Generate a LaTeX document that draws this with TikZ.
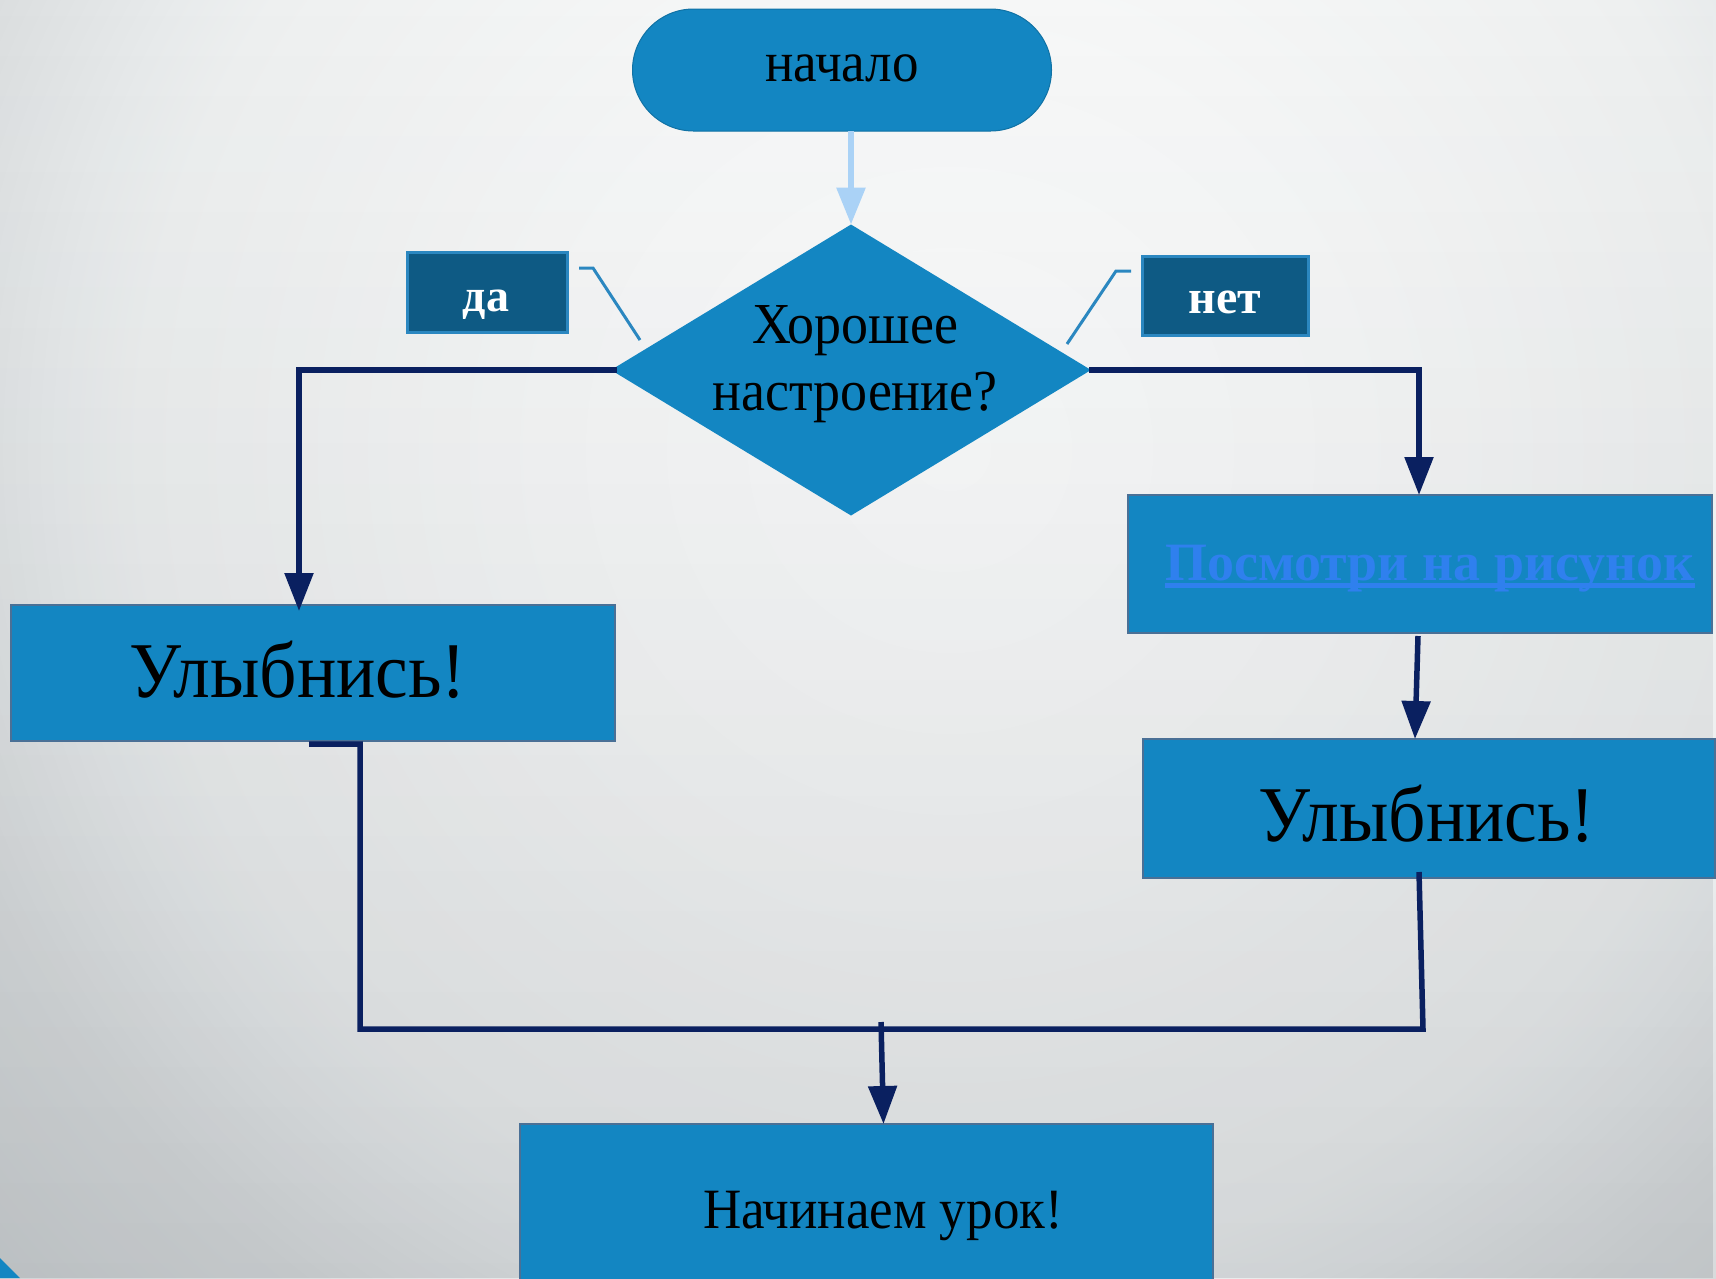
\documentclass[tikz,border=0pt]{standalone}
\usepackage{fontspec}
\setmainfont{Liberation Serif}
\newfontfamily\condserif[FakeStretch=0.93]{Liberation Serif}
\usetikzlibrary{shapes.geometric,arrows.meta,fadings}
\definecolor{boxblue}{RGB}{19,134,194}
\definecolor{boxedge}{RGB}{74,112,150}
\definecolor{navy}{RGB}{10,32,96}
\definecolor{lblue}{RGB}{170,210,246}
\definecolor{tagfill}{RGB}{14,90,132}
\definecolor{tagedge}{RGB}{43,135,192}
\definecolor{linkblue}{RGB}{47,128,238}
\definecolor{bgA}{RGB}{252,253,253}
\definecolor{bgB}{RGB}{247,248,248}
\definecolor{bgC}{RGB}{238,240,240}
\definecolor{bgD}{RGB}{232,235,236}
\definecolor{bgE}{RGB}{219,222,223}
\definecolor{bgF}{RGB}{205,209,211}
\definecolor{bgdark}{RGB}{40,50,60}
\pgfdeclareradialshading{bgshade}{\pgfpoint{0bp}{0bp}}{color(0bp)=(bgA); color(7.5bp)=(bgB); color(15bp)=(bgC); color(16.5bp)=(bgD); color(19.5bp)=(bgE); color(25bp)=(bgF); color(50bp)=(bgF)}
\newcommand\myul[1]{\setbox0\hbox{#1}\rlap{\rule[-8pt]{\wd0}{5pt}}\box0}
\begin{document}
\begin{tikzpicture}[x=1pt,y=-1pt,
  box/.style={rectangle, fill=boxblue, draw=boxedge, line width=2pt, inner sep=0pt, outer sep=0pt},
  term/.style={rectangle, rounded corners=61pt, fill=boxblue, draw=boxblue!85!black, line width=1pt, inner sep=0pt, outer sep=0pt},
  tag/.style={rectangle, fill=tagfill, draw=tagedge, line width=3pt, inner sep=0pt, outer sep=0pt},
  txt/.style={inner sep=0pt, outer sep=0pt, anchor=base, text=black},
  flow/.style={draw=navy, line width=5.5pt, -{Triangle[width=28pt,length=38pt]}},
  plainline/.style={draw=navy, line width=5.5pt},
  callout/.style={draw=tagedge, line width=3pt},
  startarr/.style={draw=lblue, line width=6pt, -{Triangle[width=28pt,length=37pt]}}
]
\useasboundingbox (0,0) rectangle (1716,1278);
\begin{scope}
  \clip (0,0) rectangle (1716,1278);
  \shade[shading=bgshade] (950,450) circle[radius=1350];
  \fill[bgdark, opacity=0.13, path fading=north] (0,0) rectangle (1716,1278);
\end{scope}
\fill[boxblue] (0,1258) -- (20,1278) -- (0,1278) -- cycle;

% shapes
\node[term, minimum width=419pt, minimum height=122pt] (start) at (842,70) {};
\node[diamond, fill=boxblue, minimum width=480pt, minimum height=291pt, inner sep=0pt, outer sep=0pt] (dec) at (851,370) {};
\node[tag, minimum width=160pt, minimum height=80pt] (da) at (487,292) {};
\node[tag, minimum width=166pt, minimum height=79pt] (net) at (1225,295.5) {};
\node[box, minimum width=604pt, minimum height=136pt] (smileL) at (313,673) {};
\node[box, minimum width=584pt, minimum height=138pt] (look) at (1420,564) {};
\node[box, minimum width=572pt, minimum height=139pt] (smileR) at (1429,808.5) {};
\node[box, minimum width=693pt, minimum height=170pt] (finish) at (866.5,1209) {};

% texts
\node[txt, font=\condserif\fontsize{57}{60}\selectfont] (starttxt) at (842,81) {начало};
\node[txt, font=\condserif\fontsize{58}{60}\selectfont] (decA) at (855,343) {Хорошее};
\node[txt, font=\condserif\fontsize{58}{60}\selectfont] (decB) at (855,410) {настроение?};
\node[txt, text=white, font=\bfseries\fontsize{46}{50}\selectfont] (datxt) at (486,311) {да};
\node[txt, text=white, font=\bfseries\fontsize{48}{50}\selectfont] (nettxt) at (1225,313) {нет};
\node[txt, font=\condserif\fontsize{79}{82}\selectfont] (smileLtxt) at (298,697) {Улыбнись!};
\node[txt, text=linkblue, font=\bfseries\fontsize{54}{56}\selectfont] (looktxt) at (1430,580) {\myul{Посмотри на рисунок}};
\node[txt, font=\condserif\fontsize{79}{82}\selectfont] (smileRtxt) at (1427,841) {Улыбнись!};
\node[txt, font=\condserif\fontsize{57}{60}\selectfont] (finishtxt) at (883,1228) {Начинаем урок!};

% callout leaders
\coordinate (ca1) at (579,268);
\coordinate (ca2) at (593,268);
\coordinate (ca3) at (640,340);
\coordinate (cb1) at (1131,271);
\coordinate (cb2) at (1116,271);
\coordinate (cb3) at (1067,344);
\draw[callout] (ca1) -- (ca2) -- (ca3);
\draw[callout] (cb1) -- (cb2) -- (cb3);

% connectors
\draw[startarr] (start.south -| dec.north) -- (dec.north);
\draw[flow] ([xshift=6pt]dec.west) -| ([xshift=-14pt,yshift=-6pt]smileL.north);
\draw[flow] ([xshift=-2pt]dec.east) -| ([xshift=-1pt]look.north);
\draw[flow] ([xshift=-2pt,yshift=-3pt]look.south) -- ([xshift=-14pt]smileR.north);
\coordinate (mj) at (1423,1029);
\coordinate (mk) at (881,1022);
\draw[plainline] ([xshift=-4pt,yshift=-3pt]smileL.south) -- ([xshift=47pt,yshift=-3pt]smileL.south) |- (mj) -- ([xshift=-10pt,yshift=6pt]smileR.south);
\draw[flow] (mk) -- ([xshift=17pt]finish.north);
\end{tikzpicture}
\end{document}
